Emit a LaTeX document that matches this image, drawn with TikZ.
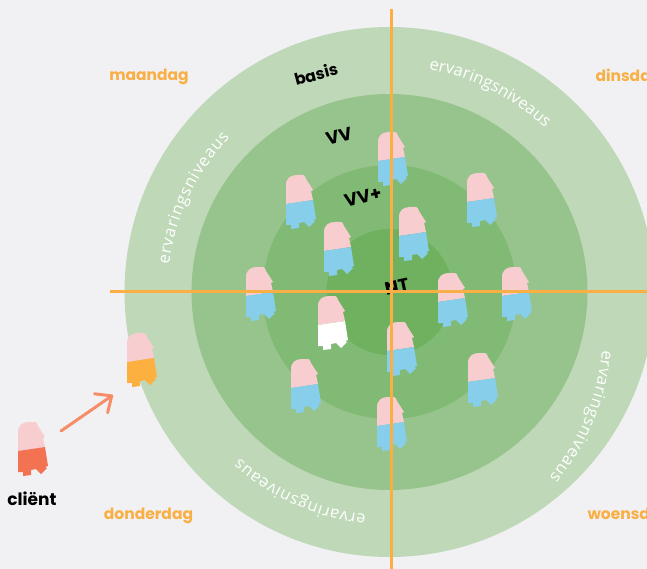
\documentclass[tikz,border=0pt]{standalone}
\usepackage{fontspec}
\setmainfont{Open Sans}
\newfontfamily\labelfont{Poppins}[BoldFont={Poppins Bold}]
\usetikzlibrary{decorations.text,arrows.meta}
\definecolor{pagegrey}{HTML}{F1F1F4}
\definecolor{ringa}{HTML}{BFD8B8}
\definecolor{ringb}{HTML}{97C48C}
\definecolor{ringc}{HTML}{80BA74}
\definecolor{ringd}{HTML}{70B160}
\definecolor{axisline}{HTML}{FAAF45}
\definecolor{bodypink}{HTML}{F8CDD0}
\definecolor{legblue}{HTML}{87CEEB}
\definecolor{legorange}{HTML}{FBB040}
\definecolor{legred}{HTML}{F37252}
\definecolor{arrowred}{HTML}{F58D67}
\tikzset{
  day/.style={text=axisline,font=\labelfont\bfseries\fontsize{15.5}{16}\selectfont},
  level/.style={font=\labelfont\bfseries\fontsize{#1}{20}\selectfont},
  axis/.style={draw=axisline,line width=3pt},
  pics/client/.style={code={
    \fill[bodypink] (0,29) -- (0,10) .. controls (0,3) and (5,0) .. (11,0) -- (17,0)
      .. controls (19,0) and (19,2) .. (20,4) -- (27,15) -- (25,16) -- (27,25) -- cycle;
    \fill[#1] (0,29) -- (27,25) -- (30,44) -- (27,45) -- (29,46) -- (23,52) -- (18,47)
      -- (13,48) -- (13,53) -- (5,54) -- (5,50) -- (0,50) -- cycle;
  }},
  curved/.style={decoration={text along path,text color=white,
    text={|\fontsize{16.5}{17}\selectfont|ervaringsniveaus},text align=fit to path},decorate}
}
\begin{document}
\begin{tikzpicture}[x=1pt,y=-1pt]
  \useasboundingbox (0,0) rectangle (647,569);
  \clip (0,0) rectangle (647,569);
  \fill[pagegrey] (0,0) rectangle (647,569);
  \coordinate (centre) at (389.5,292);
  % rings
  \fill[ringa] (centre) circle (265);
  \fill[ringb] (centre) circle (198);
  \fill[ringc] (centre) circle (127);
  \fill[ringd] (centre) circle (63);
  % ring texts
  \path[curved] (centre) ++(-173:222) arc[start angle=-173,delta angle=37,radius=222];
  \path[curved] (centre) ++(-80:226) arc[start angle=-80,delta angle=33.5,radius=226];
  \path[curved] (602,350) arc[start angle=5,delta angle=35,radius=229];
  \path[curved] (centre) ++(96:224) arc[start angle=96,delta angle=36,radius=224];
  % levels
  \node[level=16,rotate=15] (basis) at (316,74) {basis};
  \node[level=18,rotate=15] (vv) at (339,136) {VV};
  \node[level=18,rotate=15] (vvplus) at (363,197) {VV+};
  \node[level=18,rotate=12] (nt) at (397,287) {NT};
  % days
  \node[day] (maandag) at (149,77) {maandag};
  \node[day,anchor=west] (dinsdag) at (592,77) {dinsdag};
  \node[day,anchor=west] (woensdag) at (584,516) {woensdag};
  \node[day] (donderdag) at (148.5,516) {donderdag};
  % clients
  \foreach \px/\py in {378/132,286/175,467/173,399/207,324/222,246/267,438/273,502/267,
    387/322,291/359,468/353,377/397}
    \pic at (\px,\py) {client=legblue};
  \pic at (318,296) {client=white};
  \pic at (127,333) {client=legorange};
  \pic at (18,422) {client=legred};
  % axes
  \coordinate (top) at (391,9);
  \coordinate (bottom) at (391,569);
  \coordinate (west) at (110,291);
  \coordinate (east) at (647,291);
  \draw[axis] (top) -- (bottom);
  \draw[axis] (west) -- (east);
  % arrow
  \node[level=17] (client) at (32,499) {cliënt};
  \coordinate (from) at (61,431);
  \coordinate (to) at (113,395);
  \draw[arrowred,line width=3pt,line cap=round,-{Straight Barb[round,length=13pt,width=23pt]}] (from) -- (to);
\end{tikzpicture}
\end{document}
